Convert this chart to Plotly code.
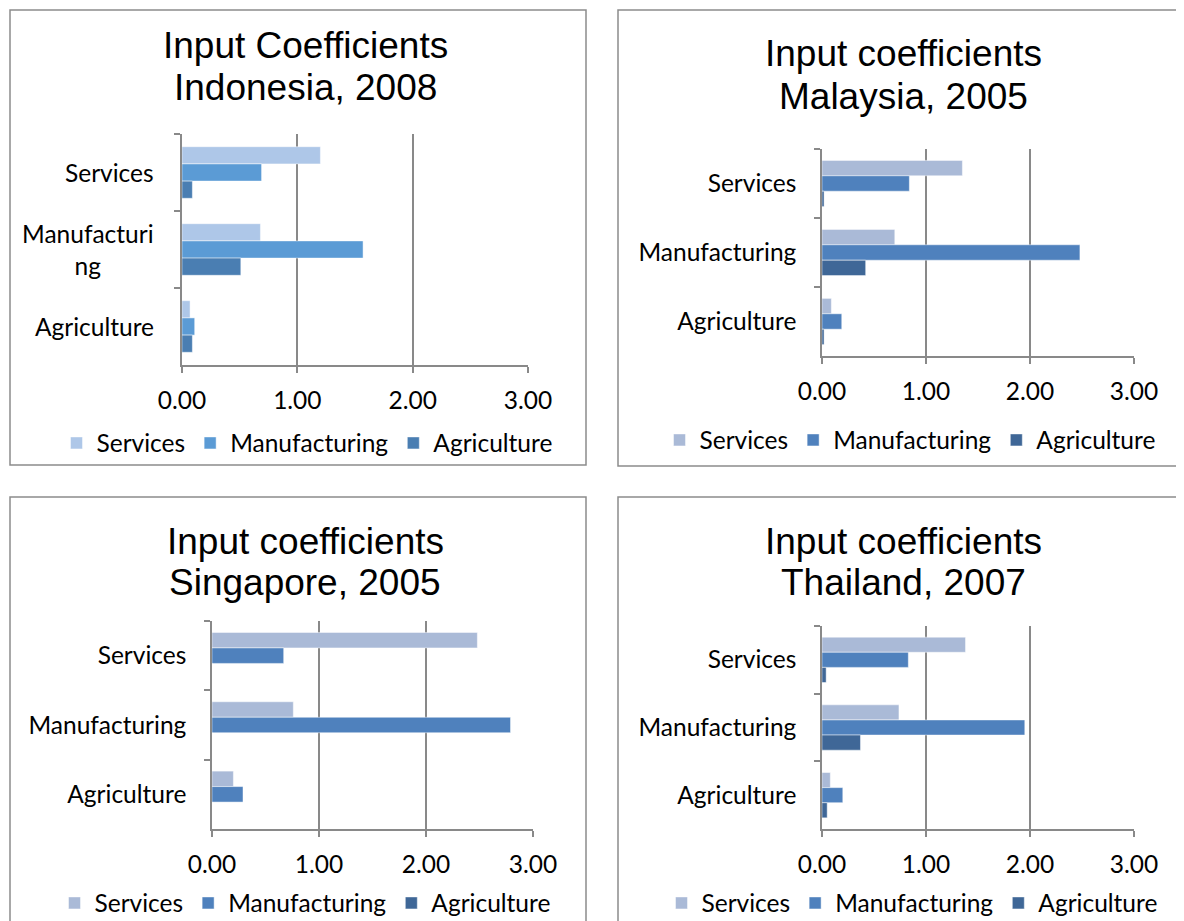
import plotly.graph_objects as go

W, H = 1184, 921
OFF = 8  # default page margin of the html body

sectors = ["Services", "Manufacturing", "Agriculture"]

# values ordered like `sectors` (the using sector on the y axis)
indonesia_services = [1.20, 0.68, 0.07]
indonesia_manufacturing = [0.69, 1.57, 0.11]
indonesia_agriculture = [0.09, 0.51, 0.09]

malaysia_services = [1.35, 0.70, 0.09]
malaysia_manufacturing = [0.84, 2.48, 0.19]
malaysia_agriculture = [0.02, 0.42, 0.02]

singapore_services = [2.48, 0.76, 0.20]
singapore_manufacturing = [0.67, 2.79, 0.29]
singapore_agriculture = [0.0, 0.0, 0.0]

thailand_services = [1.38, 0.74, 0.08]
thailand_manufacturing = [0.83, 1.95, 0.20]
thailand_agriculture = [0.04, 0.37, 0.05]

title_top = ["Input Coefficients", "Input coefficients", "Input coefficients", "Input coefficients"]
title_bottom = ["Indonesia, 2008", "Malaysia, 2005", "Singapore, 2005", "Thailand, 2007"]

colors_2010 = ["#AEC7E8", "#5B9BD5", "#4A7EB2"]
colors_2007 = ["#AABAD7", "#4F81BD", "#3F6797"]

GRID = "#898989"
LABEL_FONT = "Lato"
LABEL_SIZE = 24.5
TITLE_FONT = "Liberation Sans"


def px_x(v):
    return (v - OFF) / W


def px_y(v):
    return 1 - (v - OFF) / H


# pixel boxes: plot = (left, right, top, bottom), border likewise,
# title_y = centres of the two title lines
panels = [
    dict(series=[indonesia_services, indonesia_manufacturing, indonesia_agriculture],
         colors=colors_2010, plot=(182, 528, 134, 365), border=(10, 586, 10, 465),
         title_y=(45, 87), legend_xy=(307, 443)),
    dict(series=[malaysia_services, malaysia_manufacturing, malaysia_agriculture],
         colors=colors_2007, plot=(822, 1134, 149, 356), border=(618, 1200, 10, 466),
         title_y=(53, 96), legend_xy=(910, 440)),
    dict(series=[singapore_services, singapore_manufacturing, singapore_agriculture],
         colors=colors_2007, plot=(212, 533, 621, 829), border=(10, 586, 497, 940),
         title_y=(541, 582), legend_xy=(305, 903)),
    dict(series=[thailand_services, thailand_manufacturing, thailand_agriculture],
         colors=colors_2007, plot=(822, 1134, 626, 829), border=(618, 1200, 497, 940),
         title_y=(541, 582), legend_xy=(912, 903)),
]

fig = go.Figure()
shapes = []
annotations = []
layout_axes = {}

for i, p in enumerate(panels):
    n = "" if i == 0 else str(i + 1)
    leg = "legend" + n
    for name, vals, col in zip(sectors, p["series"], p["colors"]):
        fig.add_trace(go.Bar(
            y=sectors, x=vals, name=name, orientation="h",
            marker=dict(color=col, line=dict(color="rgba(255,255,255,0.6)", width=0.8)),
            xaxis="x" + n, yaxis="y" + n, legend=leg,
        ))

    x0, x1, y0, y1 = p["plot"]
    layout_axes["xaxis" + n] = dict(
        domain=[px_x(x0), px_x(x1)], anchor="y" + n, range=[0, 3], dtick=1,
        tickformat=".2f", showgrid=True, gridcolor=GRID, gridwidth=1.5,
        zeroline=False, showline=True, linecolor=GRID, linewidth=1.5,
        ticks="outside", ticklen=6, tickcolor=GRID, tickwidth=1.5, ticklabelstandoff=7,
        tickfont=dict(family=LABEL_FONT, size=LABEL_SIZE, color="black"),
        fixedrange=True, automargin=False,
    )
    layout_axes["yaxis" + n] = dict(
        domain=[px_y(y1), px_y(y0)], anchor="x" + n, type="category",
        categoryarray=sectors, autorange="reversed", showgrid=False,
        showline=True, linecolor=GRID, linewidth=1.5, ticks="outside",
        tickson="boundaries", ticklen=6, tickcolor=GRID, tickwidth=1.5,
        ticklabelstandoff=19,
        tickfont=dict(family=LABEL_FONT, size=LABEL_SIZE, color="black"),
        showticklabels=(i != 0), fixedrange=True, automargin=False,
    )

    bx0, bx1, by0, by1 = p["border"]
    shapes.append(dict(type="rect", xref="paper", yref="paper",
                       x0=px_x(bx0), x1=px_x(bx1), y0=px_y(by1), y1=px_y(by0),
                       line=dict(color="#8C8C8C", width=1.5)))

    cx = px_x(305 if i % 2 == 0 else 903)
    for line, ty in zip((title_top[i], title_bottom[i]), p["title_y"]):
        annotations.append(dict(
            text=line, xref="paper", yref="paper", showarrow=False,
            x=cx, y=px_y(ty), xanchor="center", yanchor="middle",
            font=dict(family=TITLE_FONT, size=37, color="black"),
        ))

    lx, ly = p["legend_xy"]
    layout_axes[leg] = dict(
        orientation="h", x=px_x(lx), y=px_y(ly), xanchor="center", yanchor="middle",
        font=dict(family=LABEL_FONT, size=LABEL_SIZE, color="black"),
        bgcolor="rgba(0,0,0,0)", itemclick=False, itemdoubleclick=False,
        tracegroupgap=0,
    )

# Indonesia's category labels are wrapped and centred, as in the original
indonesia_labels = ["Services", "Manufacturi<br>ng", "Agriculture"]
for cat, lab in zip(sectors, indonesia_labels):
    annotations.append(dict(
        text=lab, xref="paper", yref="y", x=px_x(182), y=cat, xshift=-26,
        xanchor="right", yanchor="middle", align="center", showarrow=False,
        font=dict(family=LABEL_FONT, size=LABEL_SIZE, color="black"),
    ))

fig.update_layout(
    width=W, height=H, margin=dict(l=0, r=0, t=0, b=0, autoexpand=False),
    paper_bgcolor="white", plot_bgcolor="white",
    barmode="group", bargap=0.33, bargroupgap=0,
    shapes=shapes, annotations=annotations, showlegend=True,
    **layout_axes,
)

fig.write_html("out.html")
